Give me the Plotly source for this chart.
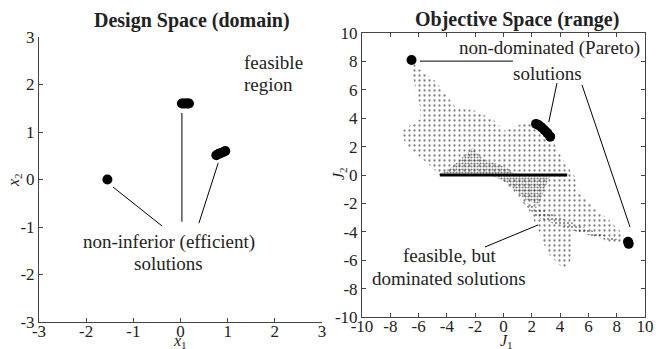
import plotly.graph_objects as go

FONT = "'Liberation Serif', 'Times New Roman', Times, serif"

# ---------------- Design space data ----------------
ds_single_x1 = [-1.55]
ds_single_x2 = [0.0]
ds_top_x1 = [0.03, 0.07, 0.11, 0.15, 0.18]
ds_top_x2 = [1.6, 1.6, 1.6, 1.6, 1.6]
ds_mid_x1 = [0.76, 0.81, 0.86, 0.91, 0.95]
ds_mid_x2 = [0.51, 0.54, 0.56, 0.58, 0.6]
ds_ticks = [-3, -2, -1, 0, 1, 2, 3]

# ---------------- Objective space data ----------------
# Pareto points
par_J1 = [-6.5, 2.3, 2.5, 2.7, 2.9, 3.1, 3.3, 8.8, 8.85]
par_J2 = [8.1, 3.6, 3.5, 3.35, 3.15, 2.95, 2.7, -4.7, -4.85]
# outline of the feasible (sampled) region in objective space
feas_J1 = [-6.5, -5.6, -4.8, -3.4, -1.9, -0.6, 0.0, 0.5, 1.4, 2.3, 3.4, 3.8, 4.35, 5.05,
           5.2, 6.4, 7.5, 8.4, 8.8, 7.5, 5.7, 4.9, 4.9, 4.7, 4.2, 3.1, 2.4, 1.7, 0.7,
           0.0, -1.0, -4.5, -5.4, -6.8, -7.3, -6.6, -5.9, -5.9, -6.25, -6.6]
feas_J2 = [8.0, 7.2, 6.6, 4.8, 4.5, 3.8, 3.1, 3.3, 3.65, 3.6, 2.6, 1.8, 0.85, -0.1,
           -1.0, -2.3, -3.2, -4.1, -4.8, -4.7, -4.1, -3.9, -4.6, -6.2, -6.55, -5.5, -3.7, -2.3, -1.2,
           -0.4, 0.0, 0.0, 0.85, 2.0, 3.0, 3.5, 3.9, 4.8, 6.2, 7.9]
# dense fan above J2 = 0
fan_J1 = [-4.5, -3.6, -2.2, -1.4, -0.5, 0.3, 0.8]
fan_J2 = [0.05, 0.6, 1.9, 1.1, 0.8, 0.5, 0.05]
# dense wedge below J2 = 0
wedge_J1 = [-0.8, 3.3, 2.9, 2.5, 1.5, 0.3]
wedge_J2 = [0.0, 0.0, -1.0, -2.1, -1.7, -0.6]
# medium-density band toward lower-right Pareto point
band_J1 = [1.2, 2.6, 4.5, 7.0, 8.6, 7.0, 4.5, 2.4]
band_J2 = [-1.8, -2.4, -3.2, -4.2, -4.7, -4.5, -3.8, -3.0]
# dense horizontal streak at J2 = 0
streak_J1 = [-4.5, 4.5]
streak_J2 = [0.0, 0.0]
obj_ticks = [-10, -8, -6, -4, -2, 0, 2, 4, 6, 8, 10]

fig = go.Figure()

# design space markers
for xs, ys in [(ds_single_x1, ds_single_x2), (ds_top_x1, ds_top_x2), (ds_mid_x1, ds_mid_x2)]:
    fig.add_trace(go.Scatter(x=xs, y=ys, mode="markers", xaxis="x", yaxis="y",
                             marker=dict(color="black", size=10), showlegend=False,
                             hoverinfo="skip"))

# objective space regions
def region(xs, ys, size, solidity):
    fig.add_trace(go.Scatter(x=xs + xs[:1], y=ys + ys[:1], mode="none", fill="toself",
                             fillcolor="rgba(0,0,0,0)", xaxis="x2", yaxis="y2",
                             fillpattern=dict(shape=".", size=size, solidity=solidity,
                                              fgcolor="black", bgcolor="rgba(0,0,0,0)",
                                              fillmode="overlay"),
                             showlegend=False, hoverinfo="skip"))

region(feas_J1, feas_J2, 5, 0.16)
region(band_J1, band_J2, 4, 0.22)
region(fan_J1, fan_J2, 3, 0.38)
region(wedge_J1, wedge_J2, 3, 0.42)

fig.add_trace(go.Scatter(x=streak_J1, y=streak_J2, mode="lines", xaxis="x2", yaxis="y2",
                         line=dict(color="black", width=3), showlegend=False, hoverinfo="skip"))
fig.add_trace(go.Scatter(x=par_J1, y=par_J2, mode="markers", xaxis="x2", yaxis="y2",
                         marker=dict(color="black", size=10), showlegend=False, hoverinfo="skip"))

# leader lines: (xref, yref, x0, y0, x1, y1)
leaders = [
    ("x", "y", -1.43, -0.16, -0.39, -0.98),
    ("x", "y", 0.03, 1.4, 0.03, -0.89),
    ("x", "y", 0.8, 0.35, 0.39, -0.92),
    ("x2", "y2", -5.9, 8.02, 0.67, 8.02),
    ("x2", "y2", 3.78, 6.48, 3.2, 3.73),
    ("x2", "y2", 5.55, 6.34, 8.94, -3.66),
    ("x2", "y2", -1.31, -5.07, 2.44, -3.52),
]
shapes = [dict(type="line", xref=xr, yref=yr, x0=a, y0=b, x1=c, y1=d,
               line=dict(color="black", width=1)) for xr, yr, a, b, c, d in leaders]

tf = dict(family=FONT, size=19, color="#222")
hf = dict(family=FONT, size=20, color="#222")
lf = dict(family=FONT, size=17, color="#222")
af = dict(family=FONT, size=16, color="#222")

def txt(s, xr, yr, x, y, **kw):
    font = kw.pop("font", tf)
    kw.setdefault("xanchor", "center")
    return dict(text=s, xref=xr, yref=yr, x=x, y=y, yanchor="middle", showarrow=False,
                font=font, **kw)

annotations = [
    txt("<b>Design Space (domain)</b>", "paper", "paper", 192/656, 1-20/349, font=hf),
    txt("<b>Objective Space (range)</b>", "paper", "paper", 517/656, 1-19/349, font=hf),
    txt("feasible", "x", "y", 1.3, 2.47, xanchor="left"),
    txt("region", "x", "y", 1.3, 2.01, xanchor="left"),
    txt("non-inferior (efficient)", "x", "y", -0.24, -1.32),
    txt("solutions", "x", "y", -0.26, -1.76),
    txt("non-dominated (Pareto)", "x2", "y2", 3.22, 8.94),
    txt("solutions", "x2", "y2", 3.14, 7.18),
    txt("feasible, but", "x2", "y2", -3.78, -5.70),
    txt("dominated solutions", "x2", "y2", -3.85, -7.32),
    txt("<i>x</i><sub>1</sub>", "paper", "paper", 180/656, 1-341/349, font=af),
    txt("<i>x</i><sub>2</sub>", "paper", "paper", 14/656, 1-180/349, textangle=-90, font=af),
    txt("<i>J</i><sub>1</sub>", "paper", "paper", 506/656, 1-341/349, font=af),
    txt("<i>J</i><sub>2</sub>", "paper", "paper", 339/656, 1-174/349, textangle=-90, font=af),
]

axcommon = dict(showgrid=False, zeroline=False, showline=True, linecolor="#444", linewidth=1,
                ticks="inside", ticklen=4, tickcolor="#444", automargin=False,
                tickfont=lf, fixedrange=True)

fig.update_layout(
    width=656, height=349, margin=dict(l=0, r=0, t=0, b=0, pad=0), autosize=False,
    paper_bgcolor="white", plot_bgcolor="white",
    xaxis=dict(domain=[39/656, 322/656], range=[-3, 3], anchor="y", ticklabelstandoff=-6,
               tickvals=ds_ticks, ticktext=[str(v) for v in ds_ticks], **axcommon),
    yaxis=dict(domain=[1-322/349, 1-37/349], range=[-3, 3], anchor="x",
               tickvals=ds_ticks, ticktext=[str(v) for v in ds_ticks], **axcommon),
    xaxis2=dict(domain=[362/656, 645/656], range=[-10, 10], anchor="y2", mirror="ticks",
                ticklabelstandoff=-6,
                tickvals=obj_ticks, ticktext=[str(v) for v in obj_ticks], **axcommon),
    yaxis2=dict(domain=[1-317/349, 1-33/349], range=[-10, 10], anchor="x2", mirror="ticks",
                tickvals=obj_ticks, ticktext=[str(v) for v in obj_ticks], **axcommon),
    shapes=shapes, annotations=annotations,
)

fig.write_html("out.html", config={"displayModeBar": False},
               post_script="document.body.style.margin='0px';")
